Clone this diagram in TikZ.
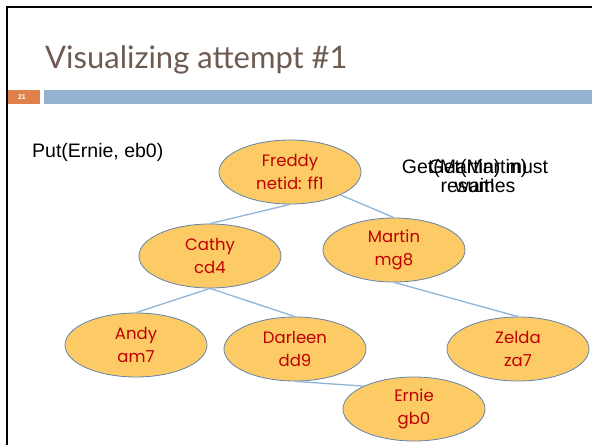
\documentclass[tikz,border=0pt]{standalone}
\usepackage{fontspec}
\setmainfont{Liberation Sans}
\newfontfamily\slidefont{Poppins}
\newfontfamily\headfont{Lato}
\usetikzlibrary{shapes.geometric}
\definecolor{titlegray}{HTML}{6D5B52}
\definecolor{barblue}{HTML}{95B3D1}
\definecolor{numorange}{HTML}{E0804A}
\definecolor{nodefill}{HTML}{FDCB66}
\definecolor{nodeline}{HTML}{6283AE}
\definecolor{namered}{HTML}{C00000}
\definecolor{edgeblue}{HTML}{8FB4D8}

\begin{document}
\begin{tikzpicture}[x=1pt,y=-1pt]
  \tikzset{person/.style = {shape=ellipse,draw=nodeline,fill=nodefill,line width=0.8pt,
      minimum width=142pt,minimum height=64pt,inner sep=0pt,align=center,
      text=namered,font=\slidefont\fontsize{16.5}{23}\selectfont}}
  \tikzset{link/.style = {draw=edgeblue,line width=1.3pt}}
  \tikzset{note/.style = {align=center,font=\fontsize{19.5}{19.5}\selectfont}}

  \useasboundingbox (0,0) rectangle (592,445);
  % slide frame
  \draw[line width=2.5pt] (7,445) -- (7,7) -- (592,7);
  \node[anchor=base west,inner sep=0pt,text=titlegray,font=\headfont\fontsize{31}{36}\selectfont] (title) at (45,68) {Visualizing attempt \#1};
  \fill[numorange] (8,90) rectangle (40,104);
  \node[text=white,font=\bfseries\fontsize{7}{8}\selectfont] (num) at (22,97) {21};
  \fill[barblue] (44,90) rectangle (592,104);

  \node[note,anchor=base west,inner sep=0pt] (put) at (32,157) {Put(Ernie, eb0)};

	\node[person] (F) at (290,172) {Freddy\\netid: ff1};
	\node[person] (C) at (210,256) {Cathy\\cd4};
	\node[person] (M) at (394,250) {Martin\\mg8};
	\node[person] (A) at (136,345) {Andy\\am7};
	\node[person] (D) at (295,349) {Darleen\\dd9};
	\node[person] (Z) at (518,349) {Zelda\\za7};
	\node[person] (E) at (414,409) {Ernie\\gb0};

  % two messages printed on top of each other
  \node[note] (wait) at (475,176) {Get(Martin) must\\wait!};
  \node[note] (resume) at (478,176) {Get(Martin)\\resumes};

  \foreach \from/\to in {F.south/C.north, F.south east/M.north, C.south/A.north,
      C.south/D.north, M.south/Z.north, D.south/E.north west}
    \path[link] (\from) -- (\to);
\end{tikzpicture}
\end{document}
